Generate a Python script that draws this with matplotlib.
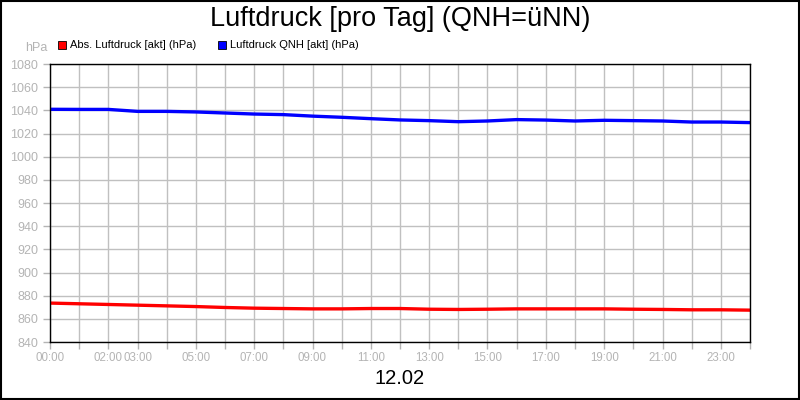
import numpy as np
import matplotlib.pyplot as plt
from matplotlib.patches import Rectangle

plt.rcParams['font.family'] = ['Liberation Sans', 'DejaVu Sans']

# Stunden des Tages (12.02)
hours = np.arange(0, 25)

# Luftdruck QNH [akt] (hPa)
qnh = [1040.9, 1040.8, 1040.8, 1039.1, 1039.1, 1038.6, 1037.7, 1036.8, 1036.3,
       1035.0, 1034.0, 1032.8, 1031.7, 1031.1, 1030.2, 1030.8, 1032.0, 1031.6,
       1030.8, 1031.4, 1031.1, 1030.8, 1029.9, 1029.9, 1029.4]

# Abs. Luftdruck [akt] (hPa)
abs_druck = [873.6, 873.0, 872.4, 871.8, 871.2, 870.6, 869.8, 869.2, 868.9,
             868.6, 868.6, 868.9, 868.9, 868.3, 868.1, 868.3, 868.6, 868.6,
             868.6, 868.6, 868.3, 868.1, 867.8, 867.8, 867.5]

x_labels = {0: '00:00', 2: '02:00', 3: '03:00', 5: '05:00', 7: '07:00', 9: '09:00',
            11: '11:00', 13: '13:00', 15: '15:00', 17: '17:00', 19: '19:00',
            21: '21:00', 23: '23:00'}

grau = '#b4b4b4'

fig = plt.figure(figsize=(8, 4), dpi=100)
ax = fig.add_axes([0.0625, 0.145, 0.875, 0.695])

ax.plot(hours, abs_druck, color='#ff0000', linewidth=2.4)
ax.plot(hours, qnh, color='#0000ff', linewidth=2.4)

ax.set_xlim(0, 24)
ax.set_ylim(840, 1080)
ax.set_xticks(hours)
ax.set_xticklabels([x_labels.get(h, '') for h in hours])
ax.set_yticks(np.arange(840, 1081, 20))
ax.grid(True, color='#c0c0c0', linewidth=1)
ax.set_axisbelow(True)
ax.tick_params(colors=grau, labelcolor=grau, labelsize=9, length=5, width=1)
ax.tick_params(axis='x', pad=2, labelsize=8.3)
for s in ax.spines.values():
    s.set_color('black')
    s.set_linewidth(1)

fig.text(0.5, 0.952, 'Luftdruck [pro Tag] (QNH=üNN)', ha='center', va='center', fontsize=19.5)
fig.text(0.5, 0.053, '12.02', ha='center', va='center', fontsize=14.5)
fig.text(0.06, 0.88, 'hPa', ha='right', va='center', fontsize=9, color=grau)

# Legende
fig.patches.append(Rectangle((0.0725, 0.878), 0.01, 0.02, transform=fig.transFigure,
                             facecolor='#ff0000', edgecolor='black', linewidth=0.6))
fig.text(0.0875, 0.888, 'Abs. Luftdruck [akt] (hPa)', va='center', fontsize=8)
fig.patches.append(Rectangle((0.2725, 0.878), 0.01, 0.02, transform=fig.transFigure,
                             facecolor='#0000ff', edgecolor='black', linewidth=0.6))
fig.text(0.2875, 0.888, 'Luftdruck QNH [akt] (hPa)', va='center', fontsize=8)

# Rahmen
fig.patches.append(Rectangle((0.001, 0.002), 0.998, 0.996, transform=fig.transFigure,
                             fill=False, edgecolor='black', linewidth=1.5))

fig.savefig('out.png', dpi=100)
